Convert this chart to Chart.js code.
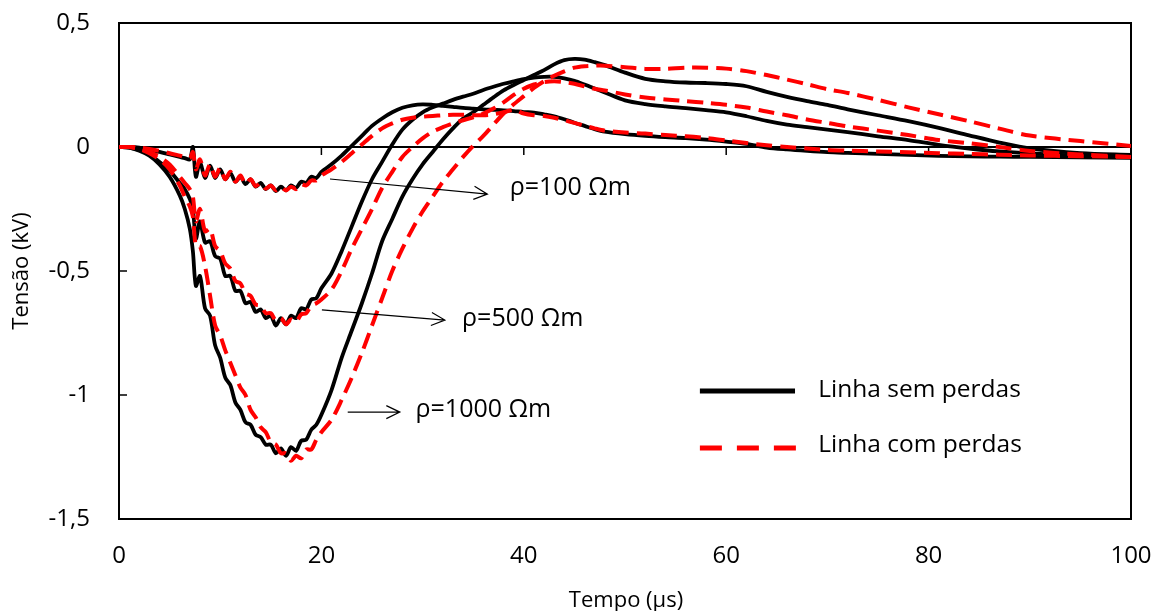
<!DOCTYPE html>
<html>
<head>
<meta charset="utf-8">
<script src="https://cdn.jsdelivr.net/npm/chart.js@4"></script>
<style>
  html, body { margin: 0; padding: 0; background: #fff; }
  #wrap { width: 1154px; height: 611px; position: relative; }
</style>
</head>
<body>
<div id="wrap"><canvas id="chartTensao"></canvas></div>
<script>
// tempo (µs) comum a todas as curvas
const timeUs = [
  0, 1, 2, 3, 4, 5, 6, 6.5, 7, 7.3, 7.6,
  8, 8.5, 9, 9.5, 10, 10.5, 11, 11.5, 12, 12.5, 13, 13.5, 14, 14.5, 15, 15.5,
  16, 16.5, 17, 17.5, 18, 18.5, 19, 19.5, 20,
  21, 22, 23, 24, 25, 26, 27, 28, 29, 30, 31, 32, 33, 34, 35, 36, 37, 38, 39,
  40, 41, 42, 43, 44, 45, 46, 47, 48,
  50, 52, 54, 56, 58, 60, 62, 64, 66, 68, 70, 72,
  75, 78, 81, 84, 87, 90, 95, 100
];

// tensão (kV) - linha sem perdas
const semPerdas100 = [
  0, 0, -0.003, -0.012, -0.02, -0.03, -0.04, -0.045, -0.05, 0.0, -0.12,
  -0.06, -0.125, -0.075, -0.125, -0.09, -0.13, -0.105, -0.14, -0.12, -0.15, -0.13, -0.16, -0.145, -0.17, -0.155, -0.178,
  -0.16, -0.175, -0.155, -0.165, -0.14, -0.145, -0.12, -0.125, -0.1,
  -0.07, -0.035, 0.005, 0.045, 0.085, 0.115, 0.14, 0.158, 0.168, 0.172, 0.17, 0.166, 0.162, 0.158, 0.155, 0.152, 0.15, 0.148, 0.145,
  0.141, 0.139, 0.132, 0.124, 0.112, 0.098, 0.085, 0.072, 0.062,
  0.052, 0.045, 0.04, 0.036, 0.03, 0.022, 0.013, -0.002, -0.01, -0.016, -0.021, -0.024,
  -0.028, -0.032, -0.036, -0.038, -0.039, -0.04, -0.042, -0.044
];
const semPerdas500 = [
  0, -0.002, -0.012, -0.03, -0.06, -0.095, -0.145, -0.17, -0.21, -0.25, -0.37,
  -0.3, -0.385, -0.38, -0.44, -0.45, -0.52, -0.52, -0.58, -0.58, -0.63, -0.625, -0.665, -0.655, -0.69, -0.68, -0.72,
  -0.69, -0.715, -0.68, -0.69, -0.65, -0.655, -0.615, -0.61, -0.57,
  -0.51, -0.42, -0.32, -0.22, -0.13, -0.06, 0.01, 0.07, 0.11, 0.14, 0.16, 0.175, 0.19, 0.203, 0.215, 0.23, 0.243, 0.255, 0.265,
  0.274, 0.28, 0.283, 0.283, 0.277, 0.267, 0.252, 0.236, 0.22,
  0.188, 0.173, 0.164, 0.157, 0.149, 0.14, 0.124, 0.105, 0.09, 0.08, 0.07, 0.06,
  0.043, 0.028, 0.009, -0.006, -0.018, -0.026, -0.035, -0.04
];
const semPerdas1000 = [
  0, -0.003, -0.015, -0.035, -0.07, -0.12, -0.195, -0.25, -0.33, -0.42, -0.56,
  -0.52, -0.65, -0.68, -0.8, -0.85, -0.93, -0.96, -1.03, -1.06, -1.11, -1.12, -1.16, -1.17, -1.2, -1.2, -1.235,
  -1.215, -1.245, -1.21, -1.225, -1.185, -1.18, -1.14, -1.12, -1.08,
  -0.98, -0.85, -0.74, -0.63, -0.51, -0.38, -0.29, -0.2, -0.13, -0.07, -0.02, 0.03, 0.075, 0.115, 0.14, 0.17, 0.2, 0.228, 0.25,
  0.27, 0.29, 0.31, 0.333, 0.35, 0.355, 0.352, 0.342, 0.33,
  0.3, 0.275, 0.265, 0.26, 0.258, 0.254, 0.245, 0.222, 0.202, 0.185, 0.17, 0.152,
  0.128, 0.104, 0.077, 0.047, 0.018, -0.006, -0.025, -0.032
];

// tensão (kV) - linha com perdas
const comPerdas100 = [
  0, 0, -0.002, -0.008, -0.016, -0.025, -0.035, -0.04, -0.045, -0.02, -0.09,
  -0.05, -0.115, -0.07, -0.12, -0.085, -0.13, -0.1, -0.14, -0.115, -0.15, -0.13, -0.158, -0.145, -0.168, -0.155, -0.175,
  -0.162, -0.175, -0.16, -0.17, -0.15, -0.155, -0.135, -0.135, -0.115,
  -0.09, -0.06, -0.025, 0.01, 0.045, 0.075, 0.095, 0.11, 0.118, 0.122, 0.125, 0.128, 0.13, 0.13, 0.128, 0.128, 0.132, 0.14, 0.15,
  0.135, 0.128, 0.125, 0.118, 0.108, 0.097, 0.086, 0.075, 0.066,
  0.058, 0.054, 0.048, 0.043, 0.036, 0.026, 0.016, 0.007, 0.0, -0.006, -0.012, -0.015,
  -0.018, -0.021, -0.025, -0.028, -0.031, -0.034, -0.037, -0.04
];
const comPerdas500 = [
  0, 0, -0.006, -0.02, -0.04, -0.07, -0.12, -0.145, -0.17, -0.2, -0.3,
  -0.25, -0.34, -0.33, -0.4, -0.42, -0.47, -0.49, -0.54, -0.55, -0.59, -0.6, -0.635, -0.64, -0.67, -0.67, -0.7,
  -0.69, -0.715, -0.695, -0.705, -0.675, -0.67, -0.64, -0.63, -0.615,
  -0.575, -0.5, -0.41, -0.33, -0.25, -0.165, -0.1, -0.04, 0.0, 0.035, 0.062, 0.08, 0.095, 0.108, 0.12, 0.135, 0.155, 0.18, 0.21,
  0.235, 0.252, 0.262, 0.265, 0.262, 0.255, 0.245, 0.235, 0.228,
  0.212, 0.2, 0.192, 0.185, 0.178, 0.17, 0.159, 0.143, 0.128, 0.111, 0.097, 0.083,
  0.066, 0.048, 0.028, 0.015, 0.0, -0.016, -0.03, -0.04
];
const comPerdas1000 = [
  0, 0, -0.008, -0.025, -0.05, -0.09, -0.155, -0.2, -0.24, -0.28, -0.4,
  -0.4, -0.48, -0.6, -0.72, -0.76, -0.82, -0.87, -0.92, -0.97, -1.0, -1.06, -1.09, -1.13, -1.15, -1.19, -1.2,
  -1.235, -1.235, -1.265, -1.245, -1.255, -1.22, -1.22, -1.18, -1.15,
  -1.1, -1.02, -0.93, -0.83, -0.72, -0.61, -0.5, -0.41, -0.33, -0.26, -0.2, -0.14, -0.09, -0.04, 0.005, 0.045, 0.09, 0.135, 0.172,
  0.205, 0.238, 0.265, 0.287, 0.305, 0.32, 0.326, 0.328, 0.328,
  0.322, 0.315, 0.315, 0.32, 0.32, 0.316, 0.306, 0.29, 0.272, 0.253, 0.233, 0.218,
  0.19, 0.16, 0.132, 0.104, 0.074, 0.046, 0.024, 0.004
];

const yTicks = [-1.5, -1, -0.5, 0, 0.5];
const xTicks = [0, 20, 40, 60, 80, 100];

// rótulos de resistividade: texto, posição do texto e seta (em unidades dos eixos)
const rhoLabels = ['ρ=100 Ωm', 'ρ=500 Ωm', 'ρ=1000 Ωm'];
const rhoTextAt = [[38.6, -0.165], [33.9, -0.694], [29.3, -1.06]];
const rhoArrows = [
  [[20.85, -0.129], [36.4, -0.19]],
  [[20.05, -0.657], [32.2, -0.698]],
  [[22.6, -1.069], [27.75, -1.069]]
];

const legendLabels = ['Linha sem perdas', 'Linha com perdas'];

const FONT = "'Open Sans', 'DejaVu Sans', sans-serif";
const toPoints = (vals) => timeUs.map((t, i) => ({ x: t, y: vals[i] }));

const semStyle = { borderColor: '#000000', borderWidth: 3.8, order: 2 };
const comStyle = { borderColor: '#ff0000', borderWidth: 4, borderDash: [16, 8], order: 1 };

const datasets = [
  { label: 'sem 100', data: toPoints(semPerdas100), ...semStyle },
  { label: 'sem 500', data: toPoints(semPerdas500), ...semStyle },
  { label: 'sem 1000', data: toPoints(semPerdas1000), ...semStyle },
  { label: 'com 100', data: toPoints(comPerdas100), ...comStyle },
  { label: 'com 500', data: toPoints(comPerdas500), ...comStyle },
  { label: 'com 1000', data: toPoints(comPerdas1000), ...comStyle },
];

// moldura, linha do zero e marcas dos eixos
const framePlugin = {
  id: 'frame',
  beforeDatasetsDraw(chart) {
    const { ctx, chartArea: a, scales: { x, y } } = chart;
    ctx.save();
    ctx.strokeStyle = '#000';
    ctx.lineWidth = 2;
    ctx.strokeRect(a.left, a.top, a.right - a.left, a.bottom - a.top);
    const y0 = y.getPixelForValue(0);
    ctx.beginPath();
    ctx.moveTo(a.left, y0);
    ctx.lineTo(a.right, y0);
    ctx.stroke();
    ctx.lineWidth = 1.5;
    ctx.beginPath();
    yTicks.forEach((v) => {
      const py = y.getPixelForValue(v);
      ctx.moveTo(a.left, py);
      ctx.lineTo(a.left + 8, py);
    });
    xTicks.forEach((v) => {
      const px = x.getPixelForValue(v);
      ctx.moveTo(px, y0);
      ctx.lineTo(px, y0 + 8);
    });
    ctx.stroke();
    ctx.restore();
  },
  afterDraw(chart) {
    const { ctx, chartArea: a, scales: { x, y } } = chart;
    ctx.save();
    ctx.fillStyle = '#000';
    ctx.strokeStyle = '#000';

    // setas e textos de resistividade
    ctx.lineWidth = 1.2;
    rhoArrows.forEach(([from, to]) => {
      const x1 = x.getPixelForValue(from[0]), y1 = y.getPixelForValue(from[1]);
      const x2 = x.getPixelForValue(to[0]), y2 = y.getPixelForValue(to[1]);
      const ang = Math.atan2(y2 - y1, x2 - x1);
      ctx.beginPath();
      ctx.moveTo(x1, y1);
      ctx.lineTo(x2, y2);
      ctx.moveTo(x2 - 15 * Math.cos(ang - 0.45), y2 - 15 * Math.sin(ang - 0.45));
      ctx.lineTo(x2, y2);
      ctx.lineTo(x2 - 15 * Math.cos(ang + 0.45), y2 - 15 * Math.sin(ang + 0.45));
      ctx.stroke();
    });
    ctx.font = `25px ${FONT}`;
    ctx.textBaseline = 'middle';
    ctx.textAlign = 'left';
    rhoLabels.forEach((txt, i) => {
      ctx.fillText(txt, x.getPixelForValue(rhoTextAt[i][0]), y.getPixelForValue(rhoTextAt[i][1]));
    });

    // legenda
    const lx1 = x.getPixelForValue(57.4), lx2 = x.getPixelForValue(66.8);
    const ly1 = y.getPixelForValue(-0.984), ly2 = y.getPixelForValue(-1.214);
    ctx.lineWidth = 5;
    ctx.strokeStyle = semStyle.borderColor;
    ctx.beginPath();
    ctx.moveTo(lx1, ly1);
    ctx.lineTo(lx2, ly1);
    ctx.stroke();
    ctx.strokeStyle = comStyle.borderColor;
    ctx.setLineDash([22, 15]);
    ctx.beginPath();
    ctx.moveTo(lx1, ly2);
    ctx.lineTo(lx2 + 2, ly2);
    ctx.stroke();
    ctx.setLineDash([]);
    ctx.font = `24.5px ${FONT}`;
    const tx = x.getPixelForValue(69.1);
    ctx.fillText(legendLabels[0], tx, ly1 - 1);
    ctx.fillText(legendLabels[1], tx, ly2 - 3);

    // títulos dos eixos
    ctx.font = `22px ${FONT}`;
    ctx.textAlign = 'center';
    ctx.textBaseline = 'alphabetic';
    ctx.fillText('Tempo (μs)', 626, 607);
    ctx.textBaseline = 'middle';
    ctx.translate(22, (a.top + a.bottom) / 2);
    ctx.rotate(-Math.PI / 2);
    ctx.fillText('Tensão (kV)', 0, 0);
    ctx.restore();
  }
};

new Chart(document.getElementById('chartTensao'), {
  type: 'line',
  data: { datasets },
  options: {
    responsive: true,
    maintainAspectRatio: false,
    animation: false,
    events: [],
    layout: { padding: { top: 23, right: 23, left: 0, bottom: 0 } },
    elements: {
      point: { radius: 0 },
      line: { tension: 0.3, fill: false, borderCapStyle: 'butt' }
    },
    plugins: { legend: { display: false }, tooltip: { enabled: false } },
    scales: {
      x: {
        type: 'linear',
        min: 0,
        max: 100,
        grid: { display: false, drawTicks: false },
        border: { display: false },
        ticks: {
          stepSize: 20,
          padding: 23,
          color: '#000',
          font: { family: FONT, size: 24 }
        },
        afterFit(scale) {
          scale.height = 92;
          scale.paddingLeft = 0;
          scale.paddingRight = 0;
        }
      },
      y: {
        type: 'linear',
        min: -1.5,
        max: 0.5,
        grid: { display: false, drawTicks: false },
        border: { display: false },
        ticks: {
          stepSize: 0.5,
          padding: 29,
          color: '#000',
          font: { family: FONT, size: 24 },
          callback: (v) => String(v).replace('.', ',')
        },
        afterFit(scale) {
          scale.width = 119;
          scale.paddingTop = 0;
          scale.paddingBottom = 0;
        }
      }
    }
  },
  plugins: [framePlugin]
});
</script>
</body>
</html>
